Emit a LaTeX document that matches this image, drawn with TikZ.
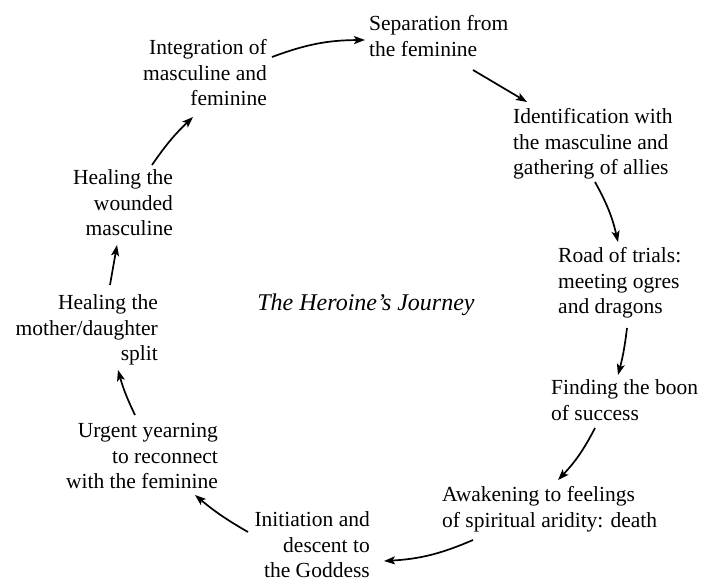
\documentclass[tikz,border=0pt]{standalone}
\usepackage{fontspec}
\setmainfont{Liberation Serif}
\usetikzlibrary{arrows.meta,calc}
\begin{document}
\begin{tikzpicture}[x=1bp,y=-1bp,
  lbl/.style={inner sep=0pt,font=\fontsize{21.5bp}{25.5bp}\selectfont},
  lblL/.style={lbl,align=left,anchor=west},
  lblR/.style={lbl,align=right,anchor=east},
  arr/.style={line width=1.7bp,-{Stealth[length=11bp,width=8bp,inset=2.5bp]}}]
\useasboundingbox (0,0) rectangle (717,584);
\node[lblL] (sep) at (369,38.5) {\strut Separation from\\\strut the feminine};
\node[lblL] (ident) at (513,144) {\strut Identification with\\\strut the masculine and\\\strut gathering of allies};
\node[lblL] (road) at (558,283) {\strut Road of trials:\\\strut meeting ogres\\\strut and dragons};
\node[lblL] (find) at (551,402.5) {\strut Finding the boon\\\strut of success};
\node[lblL] (awake) at (442,509.5) {\strut Awakening to feelings\\\strut of spiritual aridity: death};
\node[lblR] (init) at (370,547) {\strut Initiation and\\\strut descent to\\\strut the Goddess};
\node[lblR] (urgent) at (218,458) {\strut Urgent yearning\\\strut to reconnect\\\strut with the feminine};
\node[lblR] (split) at (158,330) {\strut Healing the\\\strut mother/daughter\\\strut split};
\node[lblR] (wounded) at (173,205) {\strut Healing the\\\strut wounded\\\strut masculine};
\node[lblR] (integ) at (267,75) {\strut Integration of\\\strut masculine and\\\strut feminine};
\node[inner sep=0pt,font=\fontsize{24bp}{28bp}\selectfont\itshape] (title) at (366,305) {The Heroine's Journey};

\draw[arr] ($(integ.east)+(5,-18)$) to[bend left=10] ($(sep.west)+(-4,1.5)$);
\draw[arr] ($(sep.west)+(104,31.5)$) -- ($(ident.west)+(14,-42)$);
\draw[arr] ($(ident.west)+(82,38)$) to[bend left=8] ($(road.west)+(60,-41)$);
\draw[arr] ($(road.west)+(69,45)$) to[bend left=4] ($(find.west)+(67,-27.5)$);
\draw[arr] ($(find.west)+(44,25.5)$) to[bend left=8] ($(awake.west)+(116,-29.5)$);
\draw[arr] ($(awake.west)+(31,30.5)$) to[bend left=10] ($(init.east)+(14,14)$);
\draw[arr] ($(init.east)+(-122,-15)$) to[bend left=5] ($(urgent.east)+(-23,37)$);
\draw[arr] ($(urgent.east)+(-83,-43)$) to[bend left=5] ($(split.east)+(-40,40)$);
\draw[arr] ($(split.east)+(-48,-45)$) -- ($(wounded.east)+(-56,40)$);
\draw[arr] ($(wounded.east)+(-21,-40)$) to[bend left=6] ($(integ.east)+(-74,42)$);
\end{tikzpicture}
\end{document}
